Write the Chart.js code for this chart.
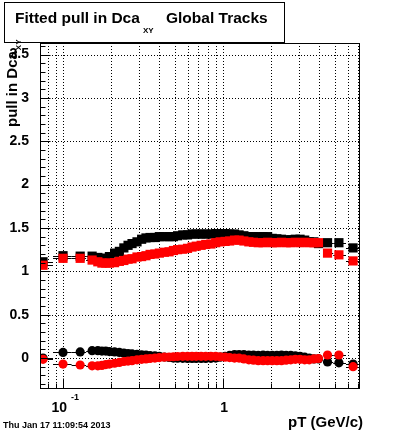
<!DOCTYPE html>
<html>
<head>
<meta charset="utf-8">
<script src="https://cdn.jsdelivr.net/npm/chart.js@4.4.0/dist/chart.umd.min.js"></script>
<style>
  html, body { margin: 0; padding: 0; background: #fff; }
  canvas { display: block; }
</style>
</head>
<body>
<canvas id="c" width="400" height="433"></canvas>
<script>
// pT bin centres (GeV/c)
const pT = [0.075, 0.1, 0.128, 0.152, 0.165, 0.175, 0.185, 0.195, 0.21, 0.225,
  0.24, 0.255, 0.27, 0.29, 0.31, 0.33, 0.35, 0.375, 0.4, 0.43,
  0.46, 0.49, 0.52, 0.56, 0.6, 0.64, 0.68, 0.73, 0.78, 0.84,
  0.9, 0.96, 1.03, 1.1, 1.18, 1.26, 1.35, 1.45, 1.55, 1.66,
  1.78, 1.9, 2.03, 2.17, 2.32, 2.48, 2.65, 2.83, 3.03, 3.24,
  3.46, 3.7, 3.95, 4.5, 5.3, 6.5];

// fitted pull width (squares)
const sigmaBlack = [1.11, 1.18, 1.175, 1.175, 1.16, 1.15, 1.15, 1.17, 1.21, 1.23,
  1.27, 1.30, 1.32, 1.34, 1.37, 1.385, 1.39, 1.39, 1.40, 1.40,
  1.40, 1.40, 1.41, 1.42, 1.42, 1.43, 1.43, 1.43, 1.43, 1.43,
  1.435, 1.435, 1.435, 1.43, 1.43, 1.42, 1.41, 1.40, 1.40, 1.40,
  1.40, 1.40, 1.38, 1.375, 1.37, 1.36, 1.365, 1.37, 1.37, 1.36,
  1.34, 1.34, 1.32, 1.33, 1.33, 1.27];
const sigmaRed = [1.07, 1.15, 1.15, 1.13, 1.11, 1.095, 1.095, 1.095, 1.10, 1.115,
  1.125, 1.14, 1.145, 1.165, 1.17, 1.18, 1.195, 1.20, 1.21, 1.22,
  1.225, 1.24, 1.25, 1.255, 1.265, 1.28, 1.29, 1.30, 1.31, 1.315,
  1.33, 1.34, 1.345, 1.35, 1.36, 1.36, 1.35, 1.34, 1.335, 1.33,
  1.33, 1.335, 1.33, 1.33, 1.335, 1.33, 1.33, 1.335, 1.33, 1.335,
  1.33, 1.33, 1.33, 1.21, 1.19, 1.12];

// fitted pull mean (circles)
const meanBlack = [0.0, 0.065, 0.07, 0.085, 0.085, 0.08, 0.08, 0.075, 0.07, 0.065,
  0.058, 0.052, 0.048, 0.043, 0.038, 0.033, 0.028, 0.025, 0.02, 0.012,
  0.006, 0.0, -0.002, -0.003, -0.004, -0.005, -0.005, -0.005, -0.004, -0.003,
  0.0, 0.01, 0.02, 0.03, 0.04, 0.04, 0.04, 0.035, 0.035, 0.03,
  0.035, 0.03, 0.03, 0.03, 0.035, 0.03, 0.03, 0.025, 0.02, 0.01,
  0.0, -0.01, -0.01, -0.045, -0.055, -0.07];
const meanRed = [-0.015, -0.07, -0.08, -0.09, -0.09, -0.085, -0.075, -0.07, -0.06, -0.05,
  -0.04, -0.035, -0.03, -0.02, -0.015, -0.01, -0.005, 0.0, 0.005, 0.01,
  0.012, 0.015, 0.018, 0.02, 0.02, 0.02, 0.02, 0.02, 0.02, 0.02,
  0.02, 0.015, 0.01, 0.005, 0.0, 0.0, -0.01, -0.02, -0.025, -0.03,
  -0.03, -0.03, -0.03, -0.03, -0.03, -0.025, -0.02, -0.015, -0.015, -0.02,
  -0.02, -0.01, -0.005, 0.035, 0.035, -0.10];

// axis ticks
const yMajor = [0, 0.5, 1, 1.5, 2, 2.5, 3, 3.5];
const xTicks = [0.08, 0.09, 0.1, 0.2, 0.3, 0.4, 0.5, 0.6, 0.7, 0.8, 0.9, 1, 2, 3, 4, 5, 6, 7];
const xDecades = [0.1, 1];

const FONT = '"Liberation Sans", Arial, Helvetica, sans-serif';

const pts = ys => pT.map((x, i) => ({ x: x, y: ys[i] }));

// horizontal error bars: bin edges halfway (in log) between neighbours
function binEdges(i) {
  const n = pT.length;
  const lo = i > 0 ? Math.sqrt(pT[i - 1] * pT[i]) : pT[0] / Math.sqrt(pT[1] / pT[0]);
  const hi = i < n - 1 ? Math.sqrt(pT[i] * pT[i + 1]) : pT[n - 1] * Math.sqrt(pT[n - 1] / pT[n - 2]);
  return [lo, hi];
}

const rootStyle = {
  id: 'rootStyle',
  beforeDraw(chart) {
    const ctx = chart.ctx;
    ctx.save();
    ctx.fillStyle = '#fff';
    ctx.fillRect(0, 0, chart.width, chart.height);
    ctx.restore();
  },
  beforeDatasetsDraw(chart) {
    const { ctx, chartArea: a, scales: { x, y } } = chart;
    ctx.save();
    ctx.strokeStyle = '#000';
    ctx.lineWidth = 1;
    // dotted grid
    ctx.setLineDash([1, 2]);
    xTicks.forEach(v => {
      const px = Math.round(x.getPixelForValue(v)) + 0.5;
      ctx.beginPath(); ctx.moveTo(px, a.top); ctx.lineTo(px, a.bottom); ctx.stroke();
    });
    yMajor.forEach(v => {
      const py = Math.round(y.getPixelForValue(v)) + 0.5;
      ctx.beginPath(); ctx.moveTo(a.left, py); ctx.lineTo(a.right, py); ctx.stroke();
    });
    ctx.setLineDash([]);
    // x error bars
    ctx.beginPath();
    ctx.rect(a.left, a.top, a.right - a.left, a.bottom - a.top);
    ctx.clip();
    [sigmaBlack, sigmaRed, meanBlack, meanRed].forEach(ys => {
      ys.forEach((v, i) => {
        const [lo, hi] = binEdges(i);
        const py = Math.round(y.getPixelForValue(v)) + 0.5;
        ctx.beginPath();
        ctx.moveTo(x.getPixelForValue(lo), py);
        ctx.lineTo(x.getPixelForValue(hi), py);
        ctx.stroke();
      });
    });
    ctx.restore();
  },
  afterDatasetsDraw(chart) {
    const { ctx, chartArea: a, scales: { x, y } } = chart;
    ctx.save();
    ctx.strokeStyle = '#000';
    ctx.lineWidth = 1;
    const L = Math.round(a.left) + 0.5, R = Math.round(a.right) - 0.5;
    const T = Math.round(a.top) + 0.5, B = Math.round(a.bottom) - 0.5;
    ctx.strokeRect(L, T, R - L, B - T);
    // y ticks (inside the frame)
    ctx.beginPath();
    for (let k = -3; k <= 36; k++) {
      const v = k / 10;
      const py = Math.round(y.getPixelForValue(v)) + 0.5;
      const len = (k % 5 === 0) ? 10 : 5;
      ctx.moveTo(L, py); ctx.lineTo(L + len, py);
    }
    // x ticks
    xTicks.forEach(v => {
      const px = Math.round(x.getPixelForValue(v)) + 0.5;
      const len = xDecades.includes(v) ? 10 : 5;
      ctx.moveTo(px, B); ctx.lineTo(px, B - len);
    });
    ctx.stroke();
    ctx.restore();
  },
  afterDraw(chart) {
    const { ctx, scales: { x } } = chart;
    ctx.save();
    ctx.fillStyle = '#000';
    ctx.textBaseline = 'alphabetic';

    // title box
    ctx.fillStyle = '#fff';
    ctx.fillRect(4, 2, 281, 40);
    ctx.strokeStyle = '#000';
    ctx.lineWidth = 1;
    ctx.strokeRect(4.5, 2.5, 280, 40);
    ctx.fillStyle = '#000';
    ctx.textAlign = 'left';
    ctx.font = 'bold 15.5px ' + FONT;
    ctx.fillText('Fitted pull in Dca', 15, 23);
    ctx.font = 'bold 8px ' + FONT;
    ctx.fillText('XY', 143, 33);
    ctx.font = 'bold 15.5px ' + FONT;
    ctx.fillText('Global Tracks', 166, 23);

    // y title (rotated)
    ctx.save();
    ctx.translate(17, 127);
    ctx.rotate(-Math.PI / 2);
    ctx.font = 'bold 15px ' + FONT;
    ctx.fillText('pull in Dca', 0, 0);
    const w = ctx.measureText('pull in Dca').width;
    ctx.font = 'bold 8px ' + FONT;
    ctx.fillText('XY', w + 1, 4);
    ctx.restore();

    // x tick labels
    const p01 = x.getPixelForValue(0.1);
    ctx.font = 'bold 14px ' + FONT;
    ctx.textAlign = 'right';
    ctx.fillText('10', p01 + 4, 412);
    ctx.font = 'bold 9px ' + FONT;
    ctx.textAlign = 'left';
    ctx.fillText('-1', p01 + 8, 400);
    ctx.font = 'bold 14px ' + FONT;
    ctx.textAlign = 'center';
    ctx.fillText('1', x.getPixelForValue(1) + 1, 412);

    // x title
    ctx.font = 'bold 15px ' + FONT;
    ctx.textAlign = 'right';
    ctx.fillText('pT (GeV/c)', 363, 427);

    // date stamp
    ctx.font = 'bold 9px ' + FONT;
    ctx.textAlign = 'left';
    ctx.fillText('Thu Jan 17 11:09:54 2013', 3, 428);
    ctx.restore();
  }
};

new Chart(document.getElementById('c'), {
  type: 'scatter',
  data: {
    datasets: [
      { label: 'mean red', data: pts(meanRed), pointStyle: 'circle', pointRadius: 4.6, backgroundColor: '#ff0000', borderWidth: 0 },
      { label: 'sigma red', data: pts(sigmaRed), pointStyle: 'rect', pointRadius: 6.5, backgroundColor: '#ff0000', borderWidth: 0 },
      { label: 'mean black', data: pts(meanBlack), pointStyle: 'circle', pointRadius: 4.6, backgroundColor: '#000000', borderWidth: 0 },
      { label: 'sigma black', data: pts(sigmaBlack), pointStyle: 'rect', pointRadius: 6.5, backgroundColor: '#000000', borderWidth: 0 }
    ]
  },
  options: {
    responsive: false,
    animation: false,
    devicePixelRatio: 1,
    layout: { padding: { top: 43, right: 40, left: 0, bottom: 0 } },
    plugins: { legend: { display: false }, tooltip: { enabled: false } },
    elements: { point: { hoverRadius: 0 } },
    scales: {
      x: {
        type: 'logarithmic',
        min: 0.0718,
        max: 7.18,
        grid: { display: false },
        border: { display: false },
        ticks: { display: false },
        afterBuildTicks: s => { s.ticks = xTicks.map(v => ({ value: v })); },
        afterFit: s => { s.height = 44; }
      },
      y: {
        min: -0.357,
        max: 3.633,
        grid: { display: false },
        border: { display: false },
        ticks: {
          color: '#000',
          padding: 3,
          font: { family: FONT, size: 14, weight: 'bold' },
          callback: v => String(v)
        },
        afterBuildTicks: s => { s.ticks = yMajor.map(v => ({ value: v })); },
        afterFit: s => { s.width = 40; }
      }
    }
  },
  plugins: [rootStyle]
});
</script>
</body>
</html>
